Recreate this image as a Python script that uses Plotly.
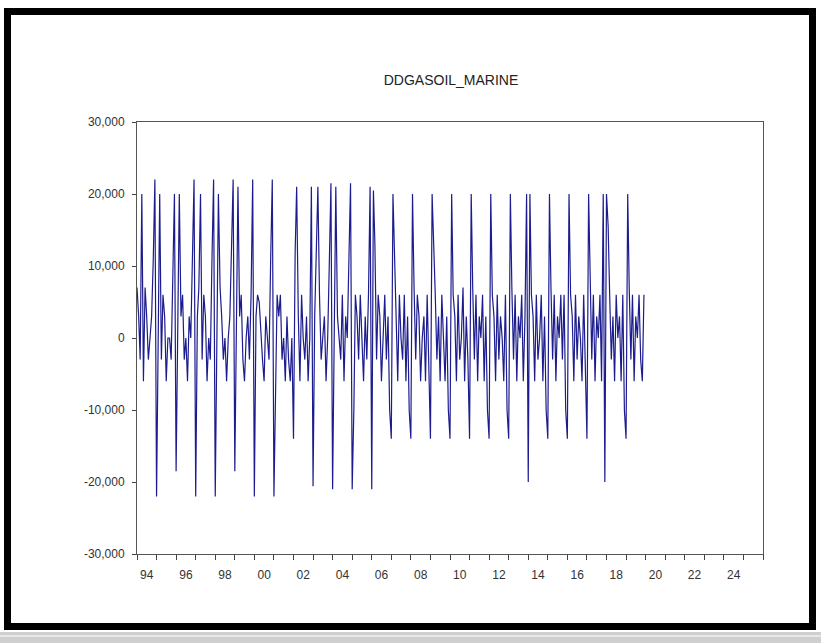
import pandas as pd
import plotly.graph_objects as go

# ---- data (monthly) ----
start_month = "1994-01-01"
values = [
    # 1994
    7000, 3000, -3000, 20000, -6000, 7000, 3000, -3000, 0, 3000, 11000, 22000,
    # 1995
    -22000, 6000, 20000, -3000, 6000, 3000, -6000, 0, 0, -3000, 10000, 20000,
    # 1996
    -18500, 7000, 20000, 3000, 6000, -3000, 0, -6000, 3000, 0, 11000, 22000,
    # 1997
    -22000, 3000, 7000, 20000, -3000, 6000, 3000, -6000, 0, -3000, 11000, 22000,
    # 1998
    -22000, 6000, 20000, 7000, 3000, -3000, 0, -6000, 0, 3000, 11000, 22000,
    # 1999
    -18500, 7000, 21000, 3000, 6000, -3000, -6000, 0, 3000, -3000, 6000, 22000,
    # 2000
    -22000, 3000, 6000, 5000, 0, -3000, -6000, 3000, 0, -3000, 11000, 22000,
    # 2001
    -22000, -10000, 6000, 3000, 6000, -3000, 0, -6000, 3000, -3000, -6000, 0,
    # 2002
    -14000, 12000, 21000, 3000, -6000, 6000, 0, -3000, 3000, -6000, 0, 21000,
    # 2003
    -20600, 3000, 12000, 21000, 6000, -3000, 0, 3000, -6000, 0, 10500, 21500,
    # 2004
    -21000, 7000, 21000, 3000, 0, -3000, 6000, -6000, 3000, 0, 11000, 21500,
    # 2005
    -21000, -10000, 6000, 3000, -3000, 6000, 0, -6000, 3000, -3000, 6000, 21000,
    # 2006
    -21000, 20500, 13000, -3000, 6000, 3000, -6000, 0, 6000, -3000, 3000, -10000,
    # 2007
    -14000, 20000, 13000, 3000, -6000, 6000, 0, -3000, 6000, -6000, 3000, -10000,
    # 2008
    -14000, 20000, 7000, -3000, 6000, 3000, -6000, 0, 3000, -6000, 6000, -3000,
    # 2009
    -14000, 20000, 14000, 6000, -3000, 3000, -6000, 6000, 0, -6000, 3000, -10000,
    # 2010
    -14000, 20000, 6000, 3000, -6000, 6000, -3000, 0, 7000, -6000, 3000, -3000,
    # 2011
    -14000, 20000, 7000, -3000, 6000, -6000, 3000, 0, 6000, -6000, 3000, -10000,
    # 2012
    -14000, 20000, 6000, 3000, -6000, 6000, -3000, 3000, 0, -6000, 6000, -10000,
    # 2013
    -14000, 20000, 7000, -3000, 6000, -6000, 3000, 0, 6000, -6000, 3000, 20000,
    # 2014
    -20000, 20000, 6000, 3000, -6000, 6000, -3000, 0, 6000, -6000, 3000, -10000,
    # 2015
    -14000, 20000, 7000, -3000, 6000, -6000, 3000, 0, 6000, -3000, 6000, -10000,
    # 2016
    -14000, 20000, 6000, 3000, -6000, 6000, -3000, 3000, 0, -6000, 6000, -3000,
    # 2017
    -14000, 20000, 7000, -3000, 6000, -6000, 3000, 0, 6000, -6000, 20000, -20000,
    # 2018
    20000, 15500, 6000, -3000, 3000, -6000, 6000, 0, 3000, -6000, 6000, -10000,
    # 2019
    -14000, 20000, 7000, -3000, 6000, -6000, 3000, 0, 6000, -3000, -6000, 6000,
]
label_years = list(range(1994, 2025, 2))
tick_labels = [f"{y % 100:02d}" for y in label_years]
y_ticks = [30000, 20000, 10000, 0, -10000, -20000, -30000]
title_text = "DDGASOIL_MARINE"

dates = pd.date_range(start_month, periods=len(values), freq="MS")

fig = go.Figure()
fig.add_trace(go.Scatter(
    x=dates, y=values, mode="lines",
    line=dict(color="#1c1c8e", width=1.2),
    showlegend=False, hoverinfo="skip",
))

# layout geometry (px): plot area left 137, right 763, top 122, bottom 554
L, R, T, B = 137, 763, 122, 554
W, H = 821, 643
pw, ph = R - L, B - T


def xp(px):
    return (px - L) / pw


def yp(py):
    return (B - py) / ph


font_family = "Liberation Sans, Arial, sans-serif"

fig.update_layout(
    width=W, height=H,
    margin=dict(l=L, r=W - R, t=T, b=H - B, pad=0),
    paper_bgcolor="white", plot_bgcolor="white",
    font=dict(family=font_family, size=12, color="#333333"),
    title=dict(text=title_text, x=xp(451), xref="paper", xanchor="center",
               y=1 - 80 / H, yanchor="middle",
               font=dict(family=font_family, size=14, color="#222222")),
    xaxis=dict(
        type="date",
        range=["1994-01-01", "2026-01-01"],
        tickvals=[f"{y}-07-02" for y in label_years],
        ticktext=tick_labels,
        ticks="", showgrid=False, zeroline=False,
        showline=True, linecolor="#555555", linewidth=1, mirror=True,
        tickfont=dict(size=12, color="#333333"),
        ticklabelstandoff=10,
        minor=dict(ticks="outside", tick0="1994-01-01", dtick="M12",
                   ticklen=5, tickcolor="#444444", tickwidth=1, showgrid=False),
        fixedrange=True,
    ),
    yaxis=dict(
        range=[-30000, 30000],
        tickvals=y_ticks,
        ticktext=[f"{v:,}" for v in y_ticks],
        ticks="outside", ticklen=4, tickcolor="#444444",
        showgrid=False, zeroline=False,
        showline=True, linecolor="#555555", linewidth=1, mirror=True,
        tickfont=dict(size=12, color="#333333"),
        ticklabelstandoff=5,
        fixedrange=True,
    ),
    shapes=[
        # black frame
        dict(type="rect", xref="paper", yref="paper",
             x0=xp(7.5), x1=xp(812.5), y0=yp(626.5), y1=yp(11.5),
             line=dict(color="black", width=7), fillcolor="rgba(0,0,0,0)",
             layer="above"),
        # grey strip at bottom
        dict(type="rect", xref="paper", yref="paper",
             x0=xp(0), x1=xp(W), y0=yp(H), y1=yp(632),
             line=dict(width=0), fillcolor="#cfcfcf", layer="above"),
        dict(type="line", xref="paper", yref="paper",
             x0=xp(0), x1=xp(W), y0=yp(636), y1=yp(636),
             line=dict(color="#e8e8e8", width=2), layer="above"),
    ],
)

fig.write_html(
    "out.html",
    config={"displayModeBar": False},
    post_script="document.body.style.margin='0px';document.body.style.overflow='hidden';",
)
